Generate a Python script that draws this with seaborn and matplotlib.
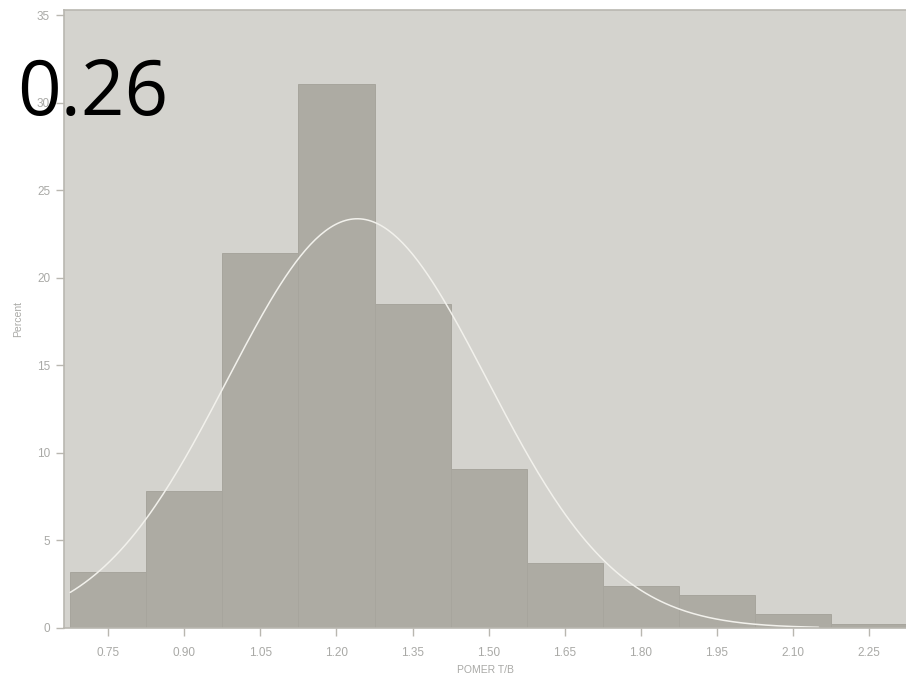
import numpy as np
import pandas as pd
import matplotlib
matplotlib.use("Agg")
import matplotlib.pyplot as plt
import seaborn as sns

# Histogram of POMER T/B, bins 0.15 wide
bin_centers = [0.75, 0.90, 1.05, 1.20, 1.35, 1.50, 1.65, 1.80, 1.95, 2.10, 2.25]
percent = [3.2, 7.8, 21.4, 31.1, 18.5, 9.1, 3.7, 2.4, 1.9, 0.8, 0.25]
bin_width = 0.15

# Fitted normal curve parameters
fit_mean = 1.241
fit_sigma = 0.256
curve_start, curve_end = 0.675, 2.15

tick_labels = ["0.75", "0.90", "1.05", "1.20", "1.35", "1.50", "1.65", "1.80", "1.95", "2.10", "2.25"]
y_ticks = [0, 5, 10, 15, 20, 25, 30, 35]
headline = "0.26"

sns.set_theme(style="white")
plt.rcParams["font.family"] = ["Liberation Sans", "DejaVu Sans"]

bg = "#d4d3ce"
bar_color = "#adaba3"
edge_color = "#a7a59d"
spine_color = "#b9b7b0"
text_color = "#a9a9a6"

fig = plt.figure(figsize=(9.06, 6.75), dpi=100)
fig.patch.set_facecolor("white")
ax = fig.add_axes([64 / 906, 47 / 675, 1 - 64 / 906 + 0.002, (628 - 10) / 675])
ax.set_facecolor(bg)

df = pd.DataFrame({"x": bin_centers, "pct": percent})
edges = [round(c - bin_width / 2, 4) for c in bin_centers] + [round(bin_centers[-1] + bin_width / 2, 4)]
sns.histplot(data=df, x="x", weights="pct", bins=edges, ax=ax,
             color=bar_color, edgecolor=edge_color, linewidth=0.7,
             alpha=1.0, stat="count")

xs = np.linspace(curve_start, curve_end, 300)
ys = 100 * bin_width * np.exp(-0.5 * ((xs - fit_mean) / fit_sigma) ** 2) / (fit_sigma * np.sqrt(2 * np.pi))
sns.lineplot(x=xs, y=ys, ax=ax, color="#f2f1ec", linewidth=1.1)

ax.set_xlim(0.663, 2.326)
ax.set_ylim(0, 35.3)
ax.set_xticks(bin_centers)
ax.set_xticklabels(tick_labels)
ax.set_yticks(y_ticks)
ax.tick_params(axis="both", direction="out", length=6, width=1, color=spine_color,
               labelcolor=text_color, labelsize=8.5, pad=8, bottom=True, left=True)
ax.tick_params(axis="y", pad=4)
ax.set_xlabel("POMER T/B", color=text_color, fontsize=7.5, labelpad=4)
ax.set_ylabel("Percent", color=text_color, fontsize=7.5, labelpad=10)

for side in ["left", "bottom", "top", "right"]:
    ax.spines[side].set_visible(True)
    ax.spines[side].set_color(spine_color)
    ax.spines[side].set_linewidth(1.2)

fig.text(17 / 906, 1 - 95 / 675, headline, fontsize=55, color="black",
         family=["Open Sans", "DejaVu Sans"], va="center", ha="left")

fig.savefig("out.png", dpi=100, facecolor="white")
